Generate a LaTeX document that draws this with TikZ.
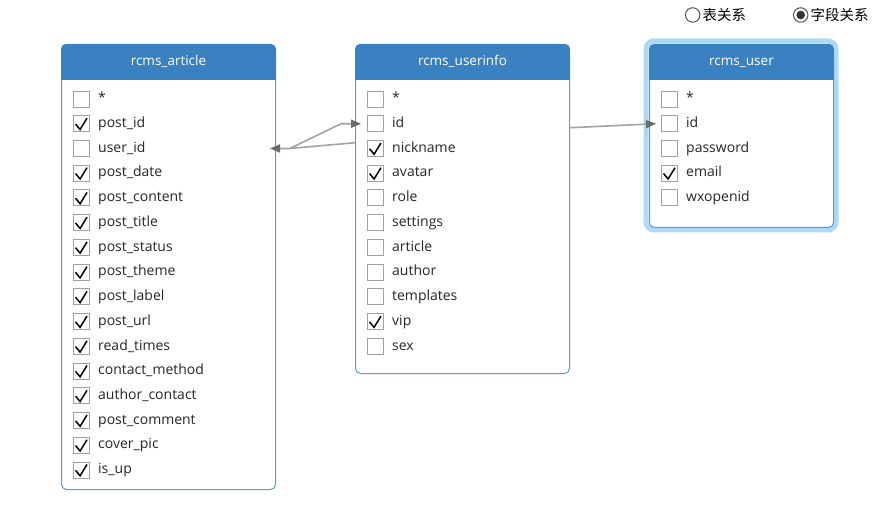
\documentclass[tikz,border=0pt]{standalone}
\usepackage{fontspec}
\setmainfont{Open Sans}
\newfontfamily\cjk{Noto Sans CJK SC}
\usetikzlibrary{arrows.meta}
\definecolor{hdr}{HTML}{3A81C1}
\definecolor{tborder}{HTML}{5E9CD3}
\definecolor{glow}{HTML}{ADD8F6}
\definecolor{cbox}{HTML}{A0A0A0}
\definecolor{lnk}{HTML}{A3A3A3}
\definecolor{tipc}{HTML}{6A6A6A}
\definecolor{radio}{HTML}{555555}
\tikzset{
  tbl/.style={draw=tborder, line width=1pt, fill=white, rounded corners=5pt,
    rectangle, inner sep=0pt, anchor=north west},
  hdrtext/.style={text=white, font=\fontsize{13.5}{16}\selectfont, inner sep=0pt,
    text height=9.5pt, text depth=3pt},
  cb/.style={draw=cbox, line width=0.9pt, fill=white, minimum size=16pt, inner sep=0pt},
  rowtext/.style={anchor=west, inner sep=0pt, font=\fontsize{14}{16}\selectfont, text=black!85,
    text height=10pt, text depth=3.5pt},
  checkmark/.style={line width=1.5pt, draw=black},
  conn/.style={draw=lnk, line width=1.6pt, line join=round},
  tipped/.style={-{Triangle[length=10pt,width=8pt,color=tipc]}},
  radiotext/.style={anchor=west, inner sep=0pt, font=\cjk\fontsize{14.5}{16}\selectfont},
}
\newcommand\mktable[6]{%
  \node[tbl, minimum width=#4pt, minimum height=#5pt] (#1) at (#2,#3) {};
  \begin{scope}
    \clip[rounded corners=5pt] (#1.north west) rectangle (#1.south east);
    \fill[hdr] (#1.north west) rectangle ([yshift=-36pt]#1.north east);
  \end{scope}
  \node[hdrtext] (#1-title) at ([yshift=-18.5pt]#1.north) {#6};
}
\newcommand\mkrows[3]{%
  \foreach \t/\c [count=\i] in {#3} {
    \node[cb] (#1-cb\i) at (#2, {99+(\i-1)*24.73}) {};
    \ifnum\c=1
      \draw[checkmark] ([shift={(-5.5pt,-0.3pt)}]#1-cb\i.center) -- ([shift={(-0.9pt,-5.8pt)}]#1-cb\i.center) -- ([shift={(6pt,5.5pt)}]#1-cb\i.center);
    \fi
    \node[rowtext] (#1-r\i) at (#2+17, {99.5+(\i-1)*24.73}) {\t};
  }
}
\begin{document}
\begin{tikzpicture}[x=1pt,y=-1pt]
\useasboundingbox[fill=white] (0,0) rectangle (895,513);

% radio buttons
\node[circle, draw=radio, line width=1pt, minimum size=14.5pt, inner sep=0pt] (rb1) at (692.7,15) {};
\node[radiotext] (rt1) at (702.5,15) {表关系};
\node[circle, draw=radio, line width=1pt, minimum size=14.5pt, inner sep=0pt] (rb2) at (800.7,15) {};
\fill[black!80] (rb2.center) circle[radius=4.3pt];
\node[radiotext] (rt2) at (810.5,15) {字段关系};

% rcms_user glow
\draw[glow, line width=5pt, rounded corners=8pt] (646,41) rectangle (836,230);

\mktable{art}{61}{44}{214}{445}{rcms\_article}
\mktable{ui}{355}{44}{214}{329}{rcms\_userinfo}
\mktable{us}{649}{44}{184}{183}{rcms\_user}

\mkrows{art}{81}{*/0, post\_id/1, user\_id/0, post\_date/1, post\_content/1, post\_title/1, post\_status/1, post\_theme/1, post\_label/1, post\_url/1, read\_times/1, contact\_method/1, author\_contact/1, post\_comment/1, cover\_pic/1, is\_up/1}
\mkrows{ui}{375}{*/0, id/0, nickname/1, avatar/1, role/0, settings/0, article/0, author/0, templates/0, vip/1, sex/0}
\mkrows{us}{669}{*/0, id/0, password/0, email/1, wxopenid/0}

% connectors
\coordinate (jn) at ([xshift=14pt]art.east |- art-cb3);
\coordinate (artin) at ([xshift=-6pt]art.east |- art-cb3);
\coordinate (uiout) at ([yshift=-19pt]ui.west |- ui-cb2);
\coordinate (bend) at ([xshift=-14pt]ui.west |- ui-cb2);
\coordinate (uiin) at ([xshift=6pt]ui.west |- ui-cb2);
\coordinate (uiR) at ([yshift=-4pt]ui.east |- ui-cb2);
\coordinate (usin) at ([xshift=7pt]us.west |- us-cb2);
\draw[conn, tipped] (uiout) -- (jn) -- (artin);
\draw[conn, tipped] (jn) -- (bend) -- (uiin);
\draw[conn, tipped] (uiR) -- (usin);
\end{tikzpicture}
\end{document}
